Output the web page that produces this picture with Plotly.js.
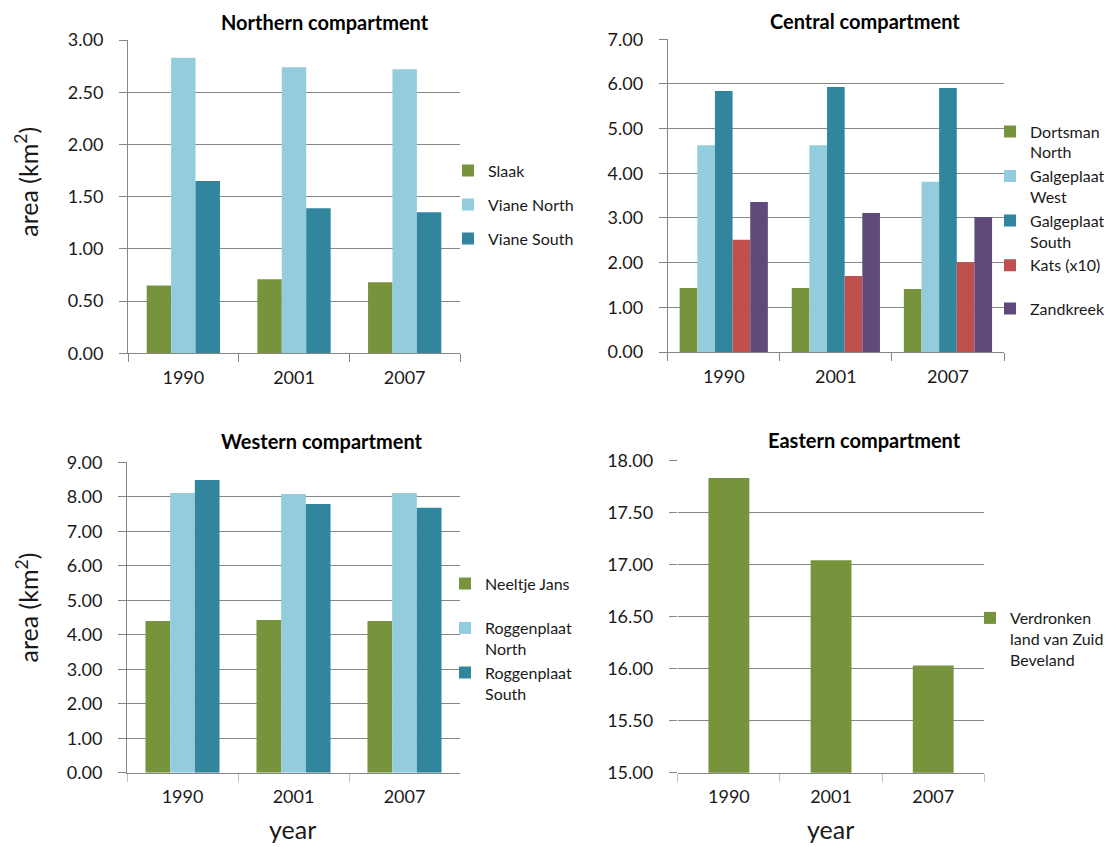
<!DOCTYPE html>
<html>
<head>
<meta charset="utf-8">
<script src="https://cdn.plot.ly/plotly-3.0.1.min.js"></script>
<style>html,body{margin:0;padding:0;background:#fff;}#chart{width:1112px;height:847px;}</style>
</head>
<body>
<div id="chart"></div>
<script>
// ---------- data ----------
const years = ['1990', '2001', '2007'];

const northNames = ['Slaak', 'Viane North', 'Viane South'];
const northSlaak = [0.65, 0.71, 0.68];
const northVianeNorth = [2.83, 2.74, 2.72];
const northVianeSouth = [1.65, 1.39, 1.35];

const centralNames = ['Dortsman<br>North', 'Galgeplaat<br>West', 'Galgeplaat<br>South', 'Kats (x10)', 'Zandkreek'];
const centralDortsmanNorth = [1.43, 1.43, 1.41];
const centralGalgeplaatWest = [4.63, 4.63, 3.81];
const centralGalgeplaatSouth = [5.84, 5.93, 5.91];
const centralKatsX10 = [2.51, 1.70, 2.01];
const centralZandkreek = [3.36, 3.11, 3.02];

const westNames = ['Neeltje Jans', 'Roggenplaat<br>North', 'Roggenplaat<br>South'];
const westNeeltjeJans = [4.40, 4.43, 4.40];
const westRoggenplaatNorth = [8.11, 8.08, 8.11];
const westRoggenplaatSouth = [8.49, 7.79, 7.68];

const eastNames = ['Verdronken<br>land van Zuid<br>Beveland'];
const eastVerdronkenLand = [17.83, 17.04, 16.03];

const panelTitles = ['Northern compartment', 'Central compartment', 'Western compartment', 'Eastern compartment'];
const yTitle = 'area (km<sup>2</sup>)';
const xTitle = 'year';

// ---------- styling ----------
const GREEN = '#77933C', LBLUE = '#93CDDD', TEAL = '#31859C', RED = '#C0504D', PURPLE = '#604A7B';
const GRID = '#868686';
const FONT = 'Lato, Carlito, "Open Sans", sans-serif';
const W = 1112, H = 847;
const px = v => v / W;
const py = v => 1 - v / H;

// legends: one id per trace (index-aligned with series)
function groupTraces(names, series, colors, xa, ya, legendIds, frac) {
  const n = series.length;
  const w = frac / n;
  return series.map((vals, i) => ({
    type: 'bar',
    x: years,
    y: vals,
    name: names[i],
    xaxis: xa,
    yaxis: ya,
    legend: legendIds[i],
    legendgroup: legendIds[i] + '_' + i,
    width: w,
    offset: -frac / 2 + i * w,
    marker: {color: colors[i], line: {width: 0}},
    hoverinfo: 'x+y+name'
  }));
}

const data = [].concat(
  groupTraces(northNames, [northSlaak, northVianeNorth, northVianeSouth], [GREEN, LBLUE, TEAL],
              'x', 'y', ['legend', 'legend', 'legend'], 0.662),
  groupTraces(centralNames, [centralDortsmanNorth, centralGalgeplaatWest, centralGalgeplaatSouth, centralKatsX10, centralZandkreek],
              [GREEN, LBLUE, TEAL, RED, PURPLE], 'x2', 'y2', ['legend2', 'legend2', 'legend2', 'legend2', 'legend5'], 0.787),
  groupTraces(westNames, [westNeeltjeJans, westRoggenplaatNorth, westRoggenplaatSouth], [GREEN, LBLUE, TEAL],
              'x3', 'y3', ['legend6', 'legend3', 'legend3'], 0.667),
  groupTraces(eastNames, [eastVerdronkenLand], [GREEN], 'x4', 'y4', ['legend4'], 0.40)
);

const tickFont = {family: FONT, size: 18, color: '#1a1a1a'};

function xAxis(domain, anchor, tickcolor) {
  return {
    domain: domain, anchor: anchor, type: 'category',
    showgrid: false, zeroline: false,
    showline: true, linecolor: GRID, linewidth: 1,
    ticks: 'outside', tickson: 'boundaries', ticklen: 8, tickcolor: tickcolor, tickwidth: 1,
    tickfont: tickFont, ticklabelstandoff: 8,
    fixedrange: true, automargin: false
  };
}
function yAxis(domain, anchor, range, dtick, showline) {
  return {
    domain: domain, anchor: anchor, range: range, dtick: dtick, tick0: range[0],
    tickformat: '.2f',
    showgrid: true, gridcolor: GRID, gridwidth: 1, zeroline: false,
    showline: showline, linecolor: GRID, linewidth: 1,
    ticks: 'outside', ticklen: 8, tickcolor: GRID, tickwidth: 1,
    tickfont: tickFont, ticklabelstandoff: 12,
    fixedrange: true, automargin: false
  };
}

function legendAt(x, y, gap) {
  return {
    x: x, y: y, xanchor: 'left', yanchor: 'top',
    bgcolor: 'rgba(0,0,0,0)', borderwidth: 0,
    font: {family: FONT, size: 16, color: '#1a1a1a'},
    traceorder: 'grouped', tracegroupgap: gap, valign: 'top',
    itemclick: false, itemdoubleclick: false
  };
}

const titleFont = {family: FONT, size: 20, color: '#000', weight: 700};
const axisTitleFont = {family: FONT, size: 25, color: '#1a1a1a'};

function note(text, x, y, font, angle) {
  return {text: text, x: px(x), y: py(y), xref: 'paper', yref: 'paper', xanchor: 'center', yanchor: 'middle',
          textangle: angle || 0, showarrow: false, font: font};
}

const layout = {
  width: W, height: H,
  margin: {l: 0, r: 0, t: 0, b: 0, pad: 0, autoexpand: false},
  paper_bgcolor: '#fff', plot_bgcolor: 'rgba(0,0,0,0)',
  barmode: 'overlay',
  font: {family: FONT, color: '#1a1a1a'},
  showlegend: true,
  xaxis:  xAxis([px(128), px(460)], 'y', GRID),
  yaxis:  yAxis([py(353.3), py(40)], 'x', [0, 3], 0.5, true),
  xaxis2: xAxis([px(667.7), px(1004)], 'y2', GRID),
  yaxis2: yAxis([py(352), py(39.3)], 'x2', [0, 7], 1, true),
  xaxis3: xAxis([px(127), px(460)], 'y3', '#BFBFBF'),
  yaxis3: yAxis([py(772.7), py(462.3)], 'x3', [0, 9], 1, true),
  xaxis4: xAxis([px(677.8), px(984.3)], 'y4', '#BFBFBF'),
  yaxis4: yAxis([py(772.7), py(460.3)], 'x4', [15, 18], 0.5, false),
  legend:  legendAt(px(448), py(153.5), 10.2),
  legend2: legendAt(px(990), py(114.5), 0),
  legend5: legendAt(px(990), py(291.5), 0),
  legend3: legendAt(px(445), py(611), 0),
  legend6: legendAt(px(445), py(566.5), 0),
  legend4: legendAt(px(970), py(601), 0),
  annotations: [
    note(panelTitles[0], 324.5, 22, titleFont),
    note(panelTitles[1], 864.5, 21, titleFont),
    note(panelTitles[2], 322.5, 441, titleFont),
    note(panelTitles[3], 864.8, 440, titleFont),
    note(yTitle, 27, 181.7, axisTitleFont, -90),
    note(yTitle, 27, 607.5, axisTitleFont, -90),
    note(xTitle, 292, 829, axisTitleFont),
    note(xTitle, 830, 829, axisTitleFont)
  ]
};

Plotly.newPlot('chart', data, layout, {displayModeBar: false, responsive: false});
</script>
</body>
</html>
